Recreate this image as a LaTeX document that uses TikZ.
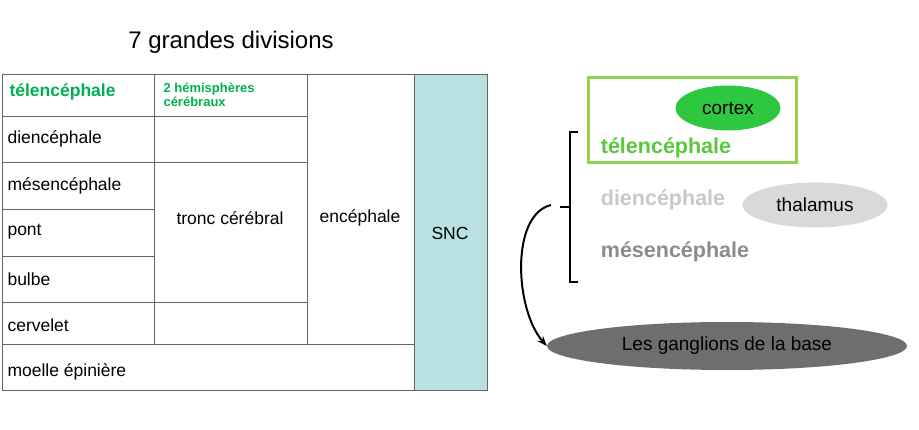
\documentclass[tikz,border=0pt]{standalone}
\usepackage{fontspec}
\setmainfont{Liberation Sans}
\usetikzlibrary{arrows.meta, shapes}
\definecolor{sncblue}{RGB}{185, 224, 226}
\definecolor{telgreen}{RGB}{0, 176, 80}
\definecolor{brightgreen}{RGB}{90, 200, 60}
\definecolor{boxgreen}{RGB}{146, 208, 80}
\definecolor{cortexgreen}{RGB}{46, 200, 64}
\definecolor{diengray}{RGB}{200, 200, 200}
\definecolor{thalgray}{RGB}{217, 217, 217}
\definecolor{mesgray}{RGB}{140, 140, 140}
\definecolor{gangray}{RGB}{110, 110, 110}
\tikzset{
  cell/.style={anchor=west, font=\fontsize{17.5}{20}\selectfont},
  mid/.style={font=\fontsize{17.5}{20}\selectfont},
  big/.style={font=\bfseries\fontsize{21.5}{24}\selectfont},
  blob/.style={ellipse, font=\fontsize{19}{21}\selectfont}
}
\begin{document}
\begin{tikzpicture}[x=1pt, y=-1pt]
        \useasboundingbox (0,0) rectangle (919,430);
        % titre
        \node[font=\fontsize{24}{26}\selectfont] (title) at (231,42) {7 grandes divisions};

        % tableau
        \fill[sncblue] (414,74) rectangle (487,390);
        \draw[gray!80!black] (2,74) rectangle (487,390);
        \foreach \y in {116,162,209,256,302} \draw[gray!80!black] (2,\y) -- (154,\y);
        \draw[gray!80!black] (2,344) -- (414,344);
        \draw[gray!80!black] (154,74) -- (154,344);
        \draw[gray!80!black] (307,74) -- (307,344);
        \draw[gray!80!black] (414,74) -- (414,390);
        \draw[gray!80!black] (154,116) -- (307,116);
        \draw[gray!80!black] (154,162) -- (307,162);
        \draw[gray!80!black] (154,302) -- (307,302);

        \node[cell, text=telgreen, font=\bfseries\fontsize{17.5}{20}\selectfont] (tel) at (6,92) {télencéphale};
        \node[cell] (dien) at (4,139) {diencéphale};
        \node[cell] (mes) at (4,186) {mésencéphale};
        \node[cell] (pont) at (4,232) {pont};
        \node[cell] (bulbe) at (4,279) {bulbe};
        \node[cell] (cerv) at (4,325) {cervelet};
        \node[cell] (moelle) at (4,372) {moelle épinière};
        \node[anchor=west, text=telgreen, font=\bfseries\fontsize{13}{14}\selectfont, align=left] (hemi) at (160,95) {2 hémisphères\\cérébraux};
        \node[mid] (tronc) at (230,218) {tronc cérébral};
        \node[mid] (ence) at (360,218) {encéphale};
        \node[mid] (snc) at (450,233) {SNC};

        % partie droite
        \draw[boxgreen, line width=3pt] (588,78) rectangle (796,163);
        \node[blob, fill=cortexgreen, minimum width=105pt, minimum height=45pt] (cortex) at (728,108) {cortex};
        \node[big, text=brightgreen] (rtel) at (666,148) {télencéphale};
        \node[big, text=diengray] (rdien) at (663,200) {diencéphale};
        \node[blob, fill=thalgray, minimum width=145pt, minimum height=45pt] (thal) at (815,205) {thalamus};
        \node[big, text=mesgray] (rmes) at (675,252) {mésencéphale};
        \node[blob, fill=gangray, minimum width=360pt, minimum height=48pt] (gang) at (727,346) {Les ganglions de la base};

        \coordinate (brk) at (560,207);
        \coordinate (start) at (551,205);
        \draw[line width=1.5pt] (578,132) -- (570,132) -- (570,282) -- (578,282);
        \draw[line width=1.5pt] (570,207) -- (brk);
        \draw[-{Stealth[length=10pt]}, line width=2pt] (start) .. controls (510,215) and (515,310) .. (gang.west);
    \end{tikzpicture}
\end{document}
